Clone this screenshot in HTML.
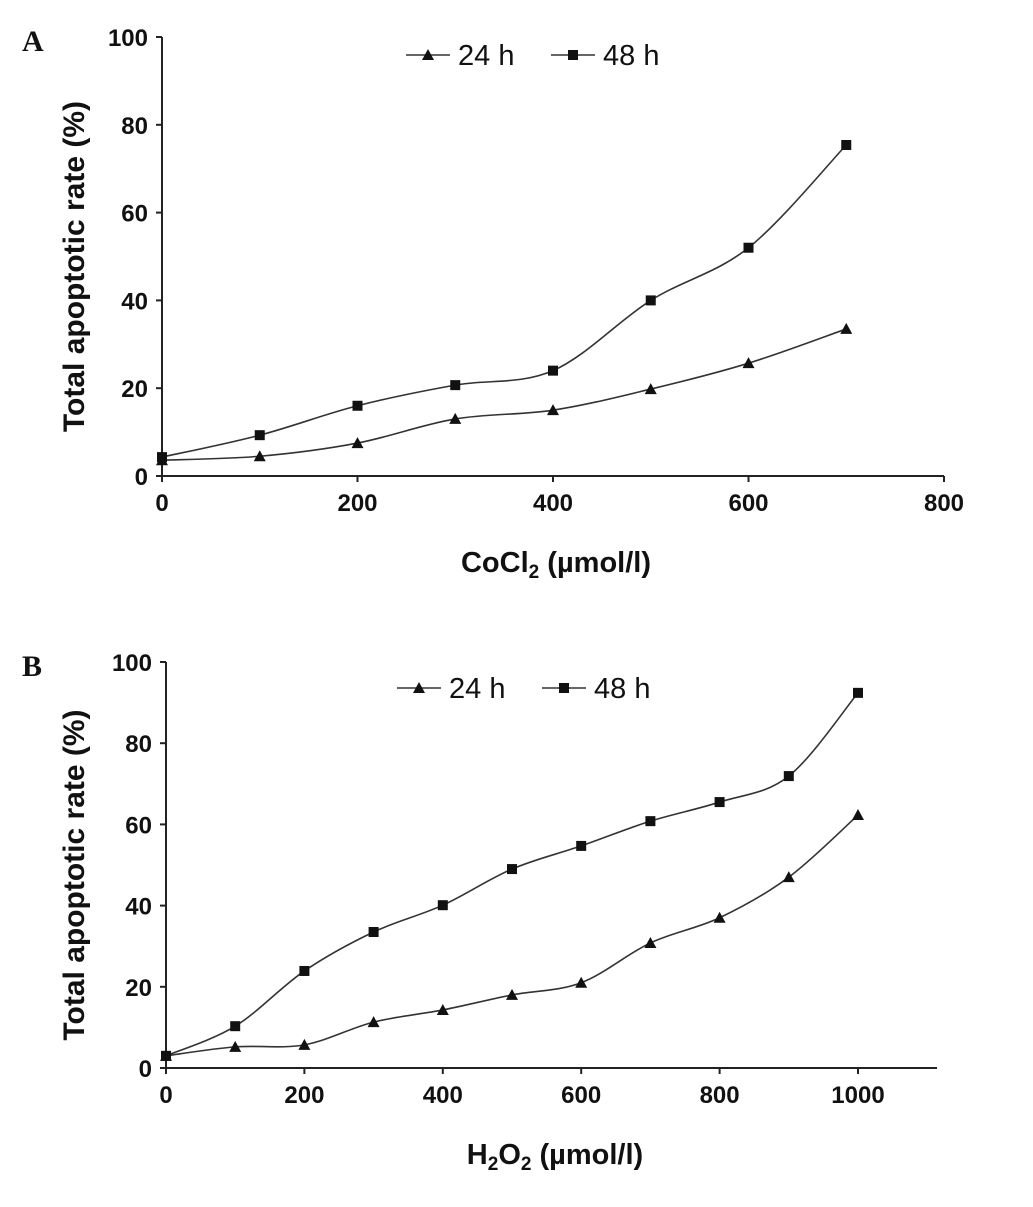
<!DOCTYPE html>
<html><head><meta charset="utf-8"><style>
body{margin:0;background:#fff}
svg text{font-family:"Liberation Sans",Arial,sans-serif;font-weight:bold;fill:#111}
</style></head><body>
<svg id="s" width="1033" height="1202" viewBox="0 0 1033 1202" xmlns="http://www.w3.org/2000/svg"></svg>
<script>
const xA=[0,100,200,300,400,500,600,700];
const a24=[3.6,4.5,7.5,13,15,19.8,25.7,33.5];
const a48=[4.3,9.3,16,20.7,24,40,52,75.4];
const xTicksA=[0,200,400,600,800];
const xB=[0,100,200,300,400,500,600,700,800,900,1000];
const b24=[3,5.2,5.7,11.3,14.3,18,21,30.8,37,47,62.3];
const b48=[3,10.3,23.9,33.5,40.1,49,54.7,60.8,65.5,71.9,92.4];
const xTicksB=[0,200,400,600,800,1000];
const yTicks=[0,20,40,60,80,100];
const svg=document.getElementById('s');
const NS='http://www.w3.org/2000/svg';
function el(t,a,p){const e=document.createElementNS(NS,t);for(const k in a)e.setAttribute(k,a[k]);(p||svg).appendChild(e);return e;}
function smooth(pts){let d='M'+pts[0][0]+','+pts[0][1];for(let i=0;i<pts.length-1;i++){const p0=pts[i-1]||pts[i],p1=pts[i],p2=pts[i+1],p3=pts[i+2]||p2;const c1=[p1[0]+(p2[0]-p0[0])/6,p1[1]+(p2[1]-p0[1])/6],c2=[p2[0]-(p3[0]-p1[0])/6,p2[1]-(p3[1]-p1[1])/6];d+=' C'+c1+' '+c2+' '+p2;}return d;}
function panel(cfg){
 const g=el('g',{});
 const X=v=>cfg.x0+(v-0)/cfg.xmax*(cfg.x1-cfg.x0), Y=v=>cfg.y0-v/100*(cfg.y0-cfg.y100);
 let ax=el('path',{d:`M${cfg.x0},${cfg.y100}V${cfg.y0}H${cfg.xend}`,stroke:'#222','stroke-width':2,fill:'none'},g);
 
 yTicks.forEach(t=>{el('line',{x1:cfg.x0-6,x2:cfg.x0,y1:Y(t),y2:Y(t),stroke:'#222','stroke-width':2},g);
  const tx=el('text',{x:cfg.x0-14,y:Y(t)+9,'text-anchor':'end','font-size':24},g);tx.textContent=t;
  });
 cfg.xt.forEach(t=>{el('line',{x1:X(t),x2:X(t),y1:cfg.y0,y2:cfg.y0+6,stroke:'#222','stroke-width':2},g);
  const tx=el('text',{x:X(t),y:cfg.y0+35,'text-anchor':'middle','font-size':24},g);tx.textContent=t;
  });
 const yt=el('text',{transform:`translate(84,${(cfg.y0+cfg.y100)/2+10}) rotate(-90)`,'text-anchor':'middle','font-size':30},g);
 yt.textContent='Total apoptotic rate (%)';
 const xt=el('text',{x:cfg.xtx,y:cfg.y0+96,'text-anchor':'middle','font-size':29},g);xt.innerHTML=cfg.xtitle;
 
 const lb=el('text',{x:22,y:cfg.y100+14,'font-size':30,style:'font-family:Liberation Serif,serif'},g);lb.textContent=cfg.label;
 
 [[cfg.s24,'tri','24-h-series'],[cfg.s48,'sq','48-h-series']].forEach(([s,m,n])=>{
  const pts=cfg.xs.map((x,i)=>[X(x),Y(s[i])]);
  const p=el('path',{d:smooth(pts),stroke:'#333','stroke-width':1.6,fill:'none'},g);
  
  pts.forEach(q=>{const mk=marker(m,q[0],q[1],g);});
 });
 const lx=cfg.legx,ly=cfg.legy;
 el('line',{x1:lx,x2:lx+44,y1:ly,y2:ly,stroke:'#333','stroke-width':1.6},g);
 let m1=marker('tri',lx+22,ly,g);
 let t1=el('text',{x:lx+52,y:ly+10,'font-size':29,style:'font-weight:normal'},g);t1.textContent='24 h';
 
 el('line',{x1:lx+145,x2:lx+189,y1:ly,y2:ly,stroke:'#333','stroke-width':1.6},g);
 let m2=marker('sq',lx+167,ly,g);
 let t2=el('text',{x:lx+197,y:ly+10,'font-size':29,style:'font-weight:normal'},g);t2.textContent='48 h';
 
}
function marker(m,x,y,g){return m==='tri'?el('path',{d:`M${x},${y-6}L${x+6},${y+5}L${x-6},${y+5}Z`,fill:'#111'},g):el('rect',{x:x-5,y:y-5,width:10,height:10,fill:'#111'},g);}
panel({name:'panel-a',label:'A',x0:162,x1:944,xmax:800,xend:944,y0:476,y100:37,xs:xA,s24:a24,s48:a48,xt:xTicksA,
 xtitle:'CoCl<tspan dy="6" font-size="19">2</tspan><tspan dy="-6"> (µmol/l)</tspan>',xtx:556,legx:406,legy:55});
panel({name:'panel-b',label:'B',x0:166,x1:858,xmax:1000,xend:937,y0:1068,y100:662,xs:xB,s24:b24,s48:b48,xt:xTicksB,
 xtitle:'H<tspan dy="6" font-size="19">2</tspan><tspan dy="-6">O</tspan><tspan dy="6" font-size="19">2</tspan><tspan dy="-6"> (µmol/l)</tspan>',xtx:555,legx:397,legy:688});
</script>
</body></html>
